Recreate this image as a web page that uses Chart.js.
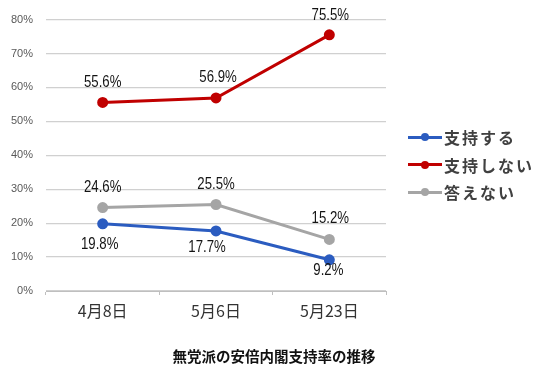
<!DOCTYPE html>
<html>
<head>
<meta charset="utf-8">
<script src="https://cdn.jsdelivr.net/npm/chart.js@4.4.1/dist/chart.umd.min.js"></script>
<style>
  html, body { margin: 0; padding: 0; background: #fff; }
  #wrap { position: relative; width: 550px; height: 374px; }
  #c { position: absolute; left: 0; top: 0; }
  #legend { position: absolute; left: 408px; top: 124px; font-family: "Noto Sans CJK JP", sans-serif; }
  .item { position: relative; height: 27.5px; width: 140px; }
  .item .ln { position: absolute; left: 0; top: 11.5px; width: 34px; height: 3px; }
  .item .dt { position: absolute; left: 13px; top: 9px; width: 8px; height: 8px; border-radius: 50%; }
  .item .tx { position: absolute; left: 36px; top: 0; font-size: 16px; font-weight: bold; letter-spacing: 2px; color: #404040; line-height: 26px; }
  #title { position: absolute; left: 0; width: 548px; top: 346px; text-align: center; font-family: "Noto Sans CJK JP", sans-serif; font-weight: bold; font-size: 14.5px; line-height: 20px; color: #111; }
</style>
</head>
<body>
<div id="wrap">
  <canvas id="c" width="550" height="374"></canvas>
  <div id="legend"></div>
  <div id="title">無党派の安倍内閣支持率の推移</div>
</div>
<script>
const categories = ["4月8日", "5月6日", "5月23日"];
const seriesNames = ["支持する", "支持しない", "答えない"];
const supportValues = [19.8, 17.7, 9.2];
const notSupportValues = [55.6, 56.9, 75.5];
const noAnswerValues = [24.6, 25.5, 15.2];
const yTickValues = [0, 10, 20, 30, 40, 50, 60, 70, 80];

const colors = ["#2b5cc0", "#c00000", "#a5a5a5"];

// label offsets relative to the point (style/position config)
const labelOffsets = [
  [[-3, 21], [-9, 16.5], [-1, 11]],
  [[0, -20], [2, -20.5], [1, -19]],
  [[0, -20], [0, -20.5], [1, -20.5]]
];

const labelPlugin = {
  id: 'valueLabels',
  afterDatasetsDraw(chart) {
    const ctx = chart.ctx;
    chart.data.datasets.forEach((ds, di) => {
      const meta = chart.getDatasetMeta(di);
      meta.data.forEach((pt, i) => {
        const off = labelOffsets[di][i];
        const txt = ds.data[i].toFixed(1) + '%';
        ctx.save();
        ctx.translate(pt.x + off[0], pt.y + off[1]);
        ctx.scale(0.8, 1);
        ctx.font = '16.5px "Liberation Sans", Arial, sans-serif';
        ctx.fillStyle = '#141414';
        ctx.textAlign = 'center';
        ctx.textBaseline = 'middle';
        ctx.fillText(txt, 0, 0);
        ctx.restore();
      });
    });
  }
};

const datasets = [supportValues, notSupportValues, noAnswerValues].map((vals, i) => ({
  label: seriesNames[i],
  data: vals,
  borderColor: colors[i],
  backgroundColor: colors[i],
  pointBackgroundColor: colors[i],
  pointBorderColor: colors[i],
  borderWidth: 3,
  pointRadius: 4,
  pointHoverRadius: 4,
  tension: 0
}));

new Chart(document.getElementById('c'), {
  type: 'line',
  data: { labels: categories, datasets },
  options: {
    responsive: false,
    animation: false,
    devicePixelRatio: 1,
    layout: { padding: { top: 16, right: 164, bottom: 53, left: 0 } },
    plugins: { legend: { display: false }, title: { display: false }, tooltip: { enabled: false } },
    scales: {
      x: {
        offset: true,
        afterFit(scale) { scale.height = 30; },
        grid: { offset: true, drawOnChartArea: false, drawTicks: true, tickLength: 4, color: '#bfbfbf', lineWidth: 1 },
        border: { display: true, color: '#bfbfbf', width: 1 },
        ticks: { padding: 6, color: '#333', font: { family: '"Noto Sans CJK JP", sans-serif', size: 16 } }
      },
      y: {
        min: 0, max: 80,
        afterFit(scale) { scale.width = 46; },
        afterBuildTicks(scale) { scale.ticks = yTickValues.map(v => ({ value: v })); },
        grid: { drawTicks: false, color: '#d0d0d0', lineWidth: 1.2 },
        border: { display: false },
        ticks: { padding: 13, color: '#595959', font: { family: '"Liberation Sans", Arial, sans-serif', size: 11 }, callback: v => v + '%' }
      }
    }
  },
  plugins: [labelPlugin]
});

const legend = document.getElementById('legend');
seriesNames.forEach((name, i) => {
  const it = document.createElement('div');
  it.className = 'item';
  it.innerHTML = '<div class="ln" style="background:' + colors[i] + '"></div><div class="dt" style="background:' + colors[i] + '"></div><div class="tx">' + name + '</div>';
  legend.appendChild(it);
});
</script>
</body>
</html>
